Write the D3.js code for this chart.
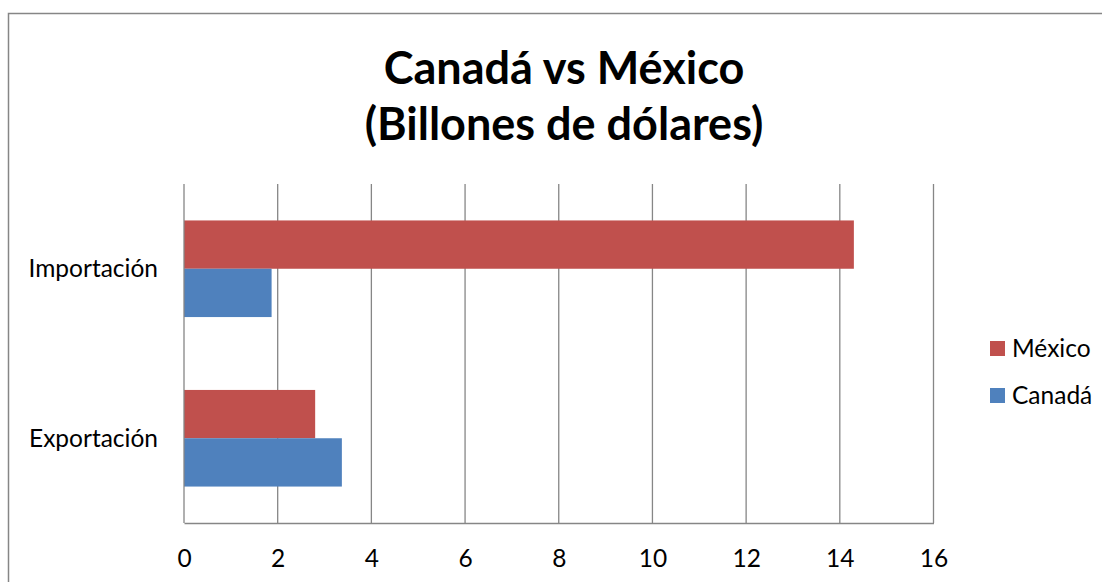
<!DOCTYPE html>
<html>
<head>
<meta charset="utf-8">
<script src="https://cdn.jsdelivr.net/npm/d3@7"></script>
<style>
  html, body { margin: 0; padding: 0; background: #fff; }
  svg { display: block; }
  text { font-family: Lato, "Open Sans", sans-serif; fill: #000; }
</style>
</head>
<body>
<svg id="chart" width="1102" height="582"></svg>
<script>
// Trade between Canada and Mexico, billions of dollars
const categories = ["Importación", "Exportación"];
const seriesNames = ["México", "Canadá"];
const mexicoValues = [14.3, 2.8];
const canadaValues = [1.87, 3.37];
const xTicks = [0, 2, 4, 6, 8, 10, 12, 14, 16];
const titleLines = ["Canadá vs México", "(Billones de dólares)"];

const colors = { "México": "#C0504D", "Canadá": "#4F81BD" };
const rows = categories.map((c, i) => ({
  category: c,
  values: [
    { series: "México", value: mexicoValues[i] },
    { series: "Canadá", value: canadaValues[i] }
  ]
}));

const svg = d3.select("#chart");
const plot = { left: 184, right: 933.5, top: 184, bottom: 523 };
const labelSize = "24.5px";

// outer chart frame (extends past the right and bottom edges)
svg.append("rect")
  .attr("x", 8.5).attr("y", 13.5)
  .attr("width", 1200).attr("height", 700)
  .attr("fill", "#fff")
  .attr("stroke", "#868686").attr("stroke-width", 1.5);

const x = d3.scaleLinear().domain([0, 16]).range([plot.left, plot.right]);
const y = d3.scaleBand().domain(categories)
  .range([plot.top, plot.bottom])
  .paddingInner(0.43).paddingOuter(0.215);
const ySeries = d3.scaleBand().domain(seriesNames).range([0, y.bandwidth()]);

// vertical gridlines
svg.append("g").selectAll("line")
  .data(xTicks.slice(1))
  .join("line")
  .attr("x1", d => x(d)).attr("x2", d => x(d))
  .attr("y1", plot.top).attr("y2", plot.bottom)
  .attr("stroke", "#868686").attr("stroke-width", 1.3);

// bars
const groups = svg.append("g").selectAll("g")
  .data(rows)
  .join("g")
  .attr("transform", d => `translate(0,${y(d.category)})`);
groups.selectAll("rect")
  .data(d => d.values)
  .join("rect")
  .attr("x", x(0))
  .attr("y", d => ySeries(d.series))
  .attr("width", d => x(d.value) - x(0))
  .attr("height", ySeries.bandwidth())
  .attr("fill", d => colors[d.series]);

// axes lines
svg.append("line")
  .attr("x1", x(0)).attr("x2", x(0))
  .attr("y1", plot.top).attr("y2", plot.bottom)
  .attr("stroke", "#868686").attr("stroke-width", 1.3);

const xAxis = d3.axisBottom(x).tickValues(xTicks).tickSize(0).tickPadding(0).tickFormat(d3.format("d"));
const gx = svg.append("g")
  .attr("transform", `translate(0,${plot.bottom})`)
  .call(xAxis);
gx.select(".domain").attr("stroke", "#868686").attr("stroke-width", 1.3);
gx.selectAll("text")
  .attr("y", 43.5).attr("dy", null)
  .style("font-family", "Lato, sans-serif")
  .style("font-size", labelSize)
  .attr("fill", "#000");

const yAxis = d3.axisLeft(y).tickSize(0).tickPadding(26);
const gy = svg.append("g")
  .attr("transform", `translate(${x(0)},0)`)
  .call(yAxis);
gy.select(".domain").remove();
gy.selectAll("text")
  .attr("dy", "8.4")
  .style("font-family", "Lato, sans-serif")
  .style("font-size", labelSize)
  .attr("fill", "#000");

// title
svg.append("g").selectAll("text")
  .data(titleLines)
  .join("text")
  .attr("x", 564)
  .attr("y", (d, i) => 84 + i * 56)
  .attr("text-anchor", "middle")
  .style("font-size", "45px")
  .style("font-weight", "bold")
  .text(d => d);

// legend
const legend = svg.append("g").selectAll("g")
  .data(seriesNames)
  .join("g")
  .attr("transform", (d, i) => `translate(990,${341 + i * 47})`);
legend.append("rect")
  .attr("width", 15).attr("height", 15)
  .attr("fill", d => colors[d]);
legend.append("text")
  .attr("x", 22).attr("y", 15.5)
  .style("font-size", labelSize)
  .text(d => d);
</script>
</body>
</html>
